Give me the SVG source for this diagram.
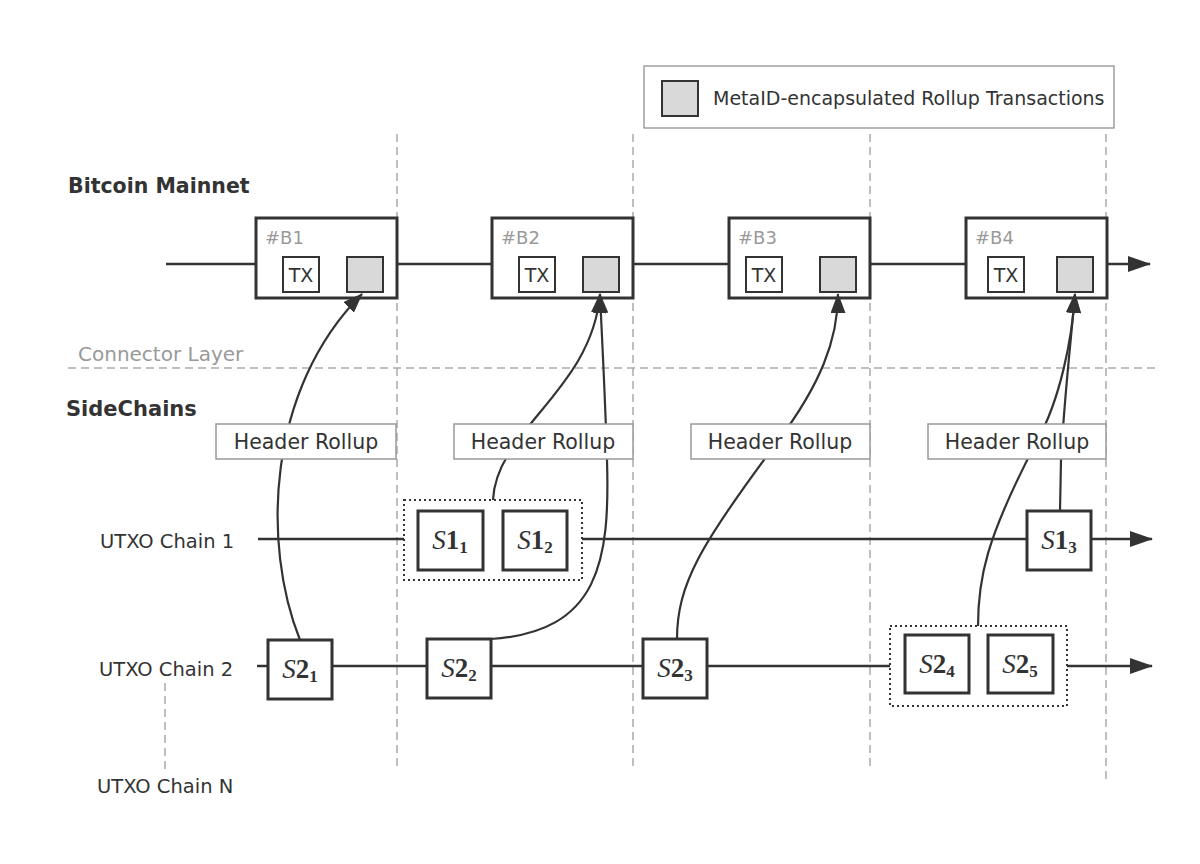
<svg xmlns="http://www.w3.org/2000/svg" width="1200" height="864" viewBox="0 0 1200 864">
<style>
.bg{fill:#fff}
.grid{stroke:#aaa;stroke-width:1.5;stroke-dasharray:8 5;fill:none}
.chain{stroke:#333;stroke-width:2.5;fill:none}
.conn{stroke:#333;stroke-width:2.2;fill:none;marker-end:url(#ah)}
.blk{fill:#fff;stroke:#333;stroke-width:3}
.tx{fill:#fff;stroke:#333;stroke-width:2}
.gr{fill:#d9d9d9;stroke:#333;stroke-width:2}
.hdr{fill:#fff;stroke:#999;stroke-width:1.5}
.sb{fill:#fff;stroke:#333;stroke-width:3}
.grp{fill:#fff;stroke:#333;stroke-width:2;stroke-dasharray:2 3}
.t{font-family:"DejaVu Sans","Liberation Sans",sans-serif;fill:#333}
.lbl{font-family:"DejaVu Sans","Liberation Sans",sans-serif;fill:#999;font-size:18px}
.m{font-family:"Liberation Serif","DejaVu Serif",serif;fill:#333;font-size:27px;text-anchor:middle}
</style>
<defs>
<marker id="ah" markerUnits="userSpaceOnUse" viewBox="0 0 20 15" refX="19" refY="7.5" markerWidth="20" markerHeight="15" orient="auto">
<path d="M0,0 L20,7.5 L0,15 z" fill="#333"/>
</marker>
<marker id="ahb" markerUnits="userSpaceOnUse" viewBox="0 0 23 16" refX="22" refY="8" markerWidth="23" markerHeight="16" orient="auto">
<path d="M0,0 L23,8 L0,16 z" fill="#333"/>
</marker>
</defs>
<rect class="bg" x="0" y="0" width="1200" height="864"/>

<g id="grid">
<line class="grid" x1="397" y1="134" x2="397" y2="770"/>
<line class="grid" x1="633" y1="134" x2="633" y2="770"/>
<line class="grid" x1="870" y1="134" x2="870" y2="770"/>
<line class="grid" x1="1106" y1="134" x2="1106" y2="780"/>
<line class="grid" x1="68" y1="368" x2="1156" y2="368"/>
<line class="grid" x1="165" y1="683" x2="165" y2="770"/>
</g>

<g id="legend">
<rect x="644" y="66" width="470" height="62" fill="#fff" stroke="#888" stroke-width="1.2"/>
<rect class="gr" x="662" y="81" width="36" height="35"/>
<text class="t" x="713" y="105" font-size="19">MetaID-encapsulated Rollup Transactions</text>
</g>

<g id="titles">
<text class="t" x="68" y="193" font-size="20.5" font-weight="bold">Bitcoin Mainnet</text>
<text class="t" x="66" y="416" font-size="21" font-weight="bold">SideChains</text>
<text class="t" x="78" y="361" font-size="20" style="fill:#999">Connector Layer</text>
<text class="t" x="100" y="548" font-size="19.5">UTXO Chain 1</text>
<text class="t" x="99" y="676" font-size="19.5">UTXO Chain 2</text>
<text class="t" x="97" y="793" font-size="19.5">UTXO Chain N</text>
</g>

<g id="chains">
<line class="chain" x1="166" y1="264" x2="1150" y2="264" marker-end="url(#ahb)"/>
<line class="chain" x1="258" y1="539" x2="1152" y2="539" marker-end="url(#ahb)"/>
<line class="chain" x1="257" y1="666" x2="1152" y2="666" marker-end="url(#ahb)"/>
</g>

<g id="block-B1">
<rect class="blk" x="256" y="218" width="141" height="80"/>
<text class="lbl" x="265" y="244">#B1</text>
<rect class="tx" x="283" y="257" width="36" height="35"/>
<text class="t" x="301" y="282" font-size="19" text-anchor="middle">TX</text>
<rect class="gr" x="347" y="257" width="36" height="35"/>
</g>
<g id="block-B2">
<rect class="blk" x="492" y="218" width="141" height="80"/>
<text class="lbl" x="501" y="244">#B2</text>
<rect class="tx" x="519" y="257" width="36" height="35"/>
<text class="t" x="537" y="282" font-size="19" text-anchor="middle">TX</text>
<rect class="gr" x="583" y="257" width="36" height="35"/>
</g>
<g id="block-B3">
<rect class="blk" x="729" y="218" width="141" height="80"/>
<text class="lbl" x="738" y="244">#B3</text>
<rect class="tx" x="746" y="257" width="36" height="35"/>
<text class="t" x="764" y="282" font-size="19" text-anchor="middle">TX</text>
<rect class="gr" x="820" y="257" width="36" height="35"/>
</g>
<g id="block-B4">
<rect class="blk" x="966" y="218" width="141" height="80"/>
<text class="lbl" x="975" y="244">#B4</text>
<rect class="tx" x="988" y="257" width="36" height="35"/>
<text class="t" x="1006" y="282" font-size="19" text-anchor="middle">TX</text>
<rect class="gr" x="1057" y="257" width="36" height="35"/>
</g>

<g id="connectors">
<path class="conn" d="M 300 640 C 262 545, 266 390, 362 294"/>
<path class="conn" d="M 493 500 C 496 430, 592 390, 600 294"/>
<path class="conn" d="M 491 639 C 600 632, 610 560, 607 460 C 605 390, 602 340, 600 294"/>
<path class="conn" d="M 677 639 C 677 585, 700 545, 778 441 C 820 385, 838 340, 838 294"/>
<path class="conn" d="M 978 626 C 978 580, 985 540, 1037 441 C 1060 400, 1072 340, 1075 294"/>
<path class="conn" d="M 1060 511 L 1061 460 C 1064 400, 1071 340, 1075 294"/>
</g>

<g id="header-1"><rect class="hdr" x="216" y="424" width="180" height="35"/><text class="t" x="306" y="449" font-size="20.5" text-anchor="middle">Header Rollup</text></g>
<g id="header-2"><rect class="hdr" x="454" y="424" width="179" height="35"/><text class="t" x="543" y="449" font-size="20.5" text-anchor="middle">Header Rollup</text></g>
<g id="header-3"><rect class="hdr" x="691" y="424" width="179" height="35"/><text class="t" x="780" y="449" font-size="20.5" text-anchor="middle">Header Rollup</text></g>
<g id="header-4"><rect class="hdr" x="928" y="424" width="178" height="35"/><text class="t" x="1017" y="449" font-size="20.5" text-anchor="middle">Header Rollup</text></g>

<g id="group-S1">
<rect class="grp" x="404" y="500" width="178" height="80"/>
</g>
<g id="S1_1"><rect class="sb" x="418" y="511" width="65" height="59"/><text class="m" x="450" y="549"><tspan font-style="italic">S</tspan><tspan font-weight="bold">1</tspan><tspan font-size="17" font-weight="bold" dy="4">1</tspan></text></g>
<g id="S1_2"><rect class="sb" x="503" y="511" width="64" height="59"/><text class="m" x="535" y="549"><tspan font-style="italic">S</tspan><tspan font-weight="bold">1</tspan><tspan font-size="17" font-weight="bold" dy="4">2</tspan></text></g>
<g id="S1_3"><rect class="sb" x="1027" y="511" width="64" height="59"/><text class="m" x="1059" y="549"><tspan font-style="italic">S</tspan><tspan font-weight="bold">1</tspan><tspan font-size="17" font-weight="bold" dy="4">3</tspan></text></g>

<g id="S2_1"><rect class="sb" x="268" y="640" width="64" height="59"/><text class="m" x="300" y="678"><tspan font-style="italic">S</tspan><tspan font-weight="bold">2</tspan><tspan font-size="17" font-weight="bold" dy="4">1</tspan></text></g>
<g id="S2_2"><rect class="sb" x="427" y="639" width="64" height="59"/><text class="m" x="459" y="677"><tspan font-style="italic">S</tspan><tspan font-weight="bold">2</tspan><tspan font-size="17" font-weight="bold" dy="4">2</tspan></text></g>
<g id="S2_3"><rect class="sb" x="643" y="639" width="64" height="59"/><text class="m" x="675" y="677"><tspan font-style="italic">S</tspan><tspan font-weight="bold">2</tspan><tspan font-size="17" font-weight="bold" dy="4">3</tspan></text></g>
<g id="group-S2">
<rect class="grp" x="890" y="626" width="177" height="80"/>
</g>
<g id="S2_4"><rect class="sb" x="905" y="635" width="64" height="58"/><text class="m" x="937" y="673"><tspan font-style="italic">S</tspan><tspan font-weight="bold">2</tspan><tspan font-size="17" font-weight="bold" dy="4">4</tspan></text></g>
<g id="S2_5"><rect class="sb" x="988" y="635" width="65" height="58"/><text class="m" x="1020" y="673"><tspan font-style="italic">S</tspan><tspan font-weight="bold">2</tspan><tspan font-size="17" font-weight="bold" dy="4">5</tspan></text></g>
</svg>
